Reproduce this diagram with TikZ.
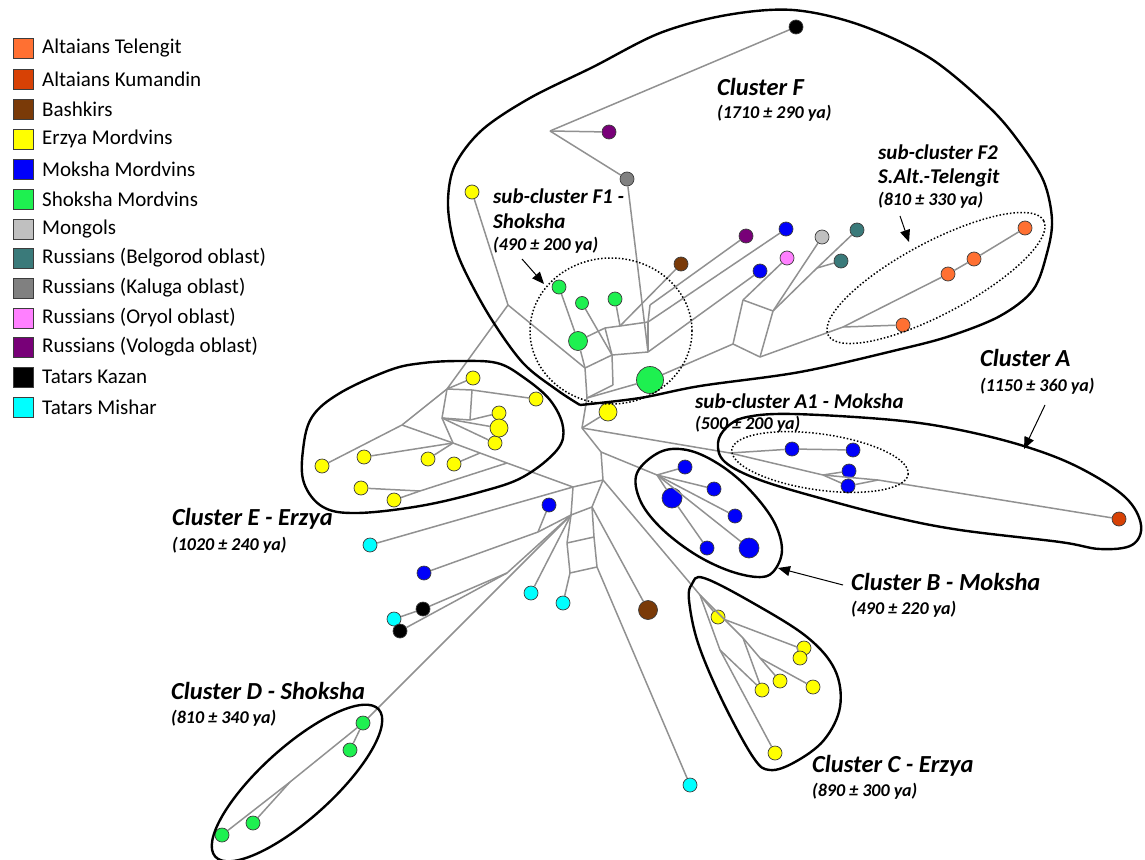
\documentclass[tikz,border=0pt]{standalone}
\usepackage{fontspec}
\setmainfont{Carlito}
\usetikzlibrary{arrows.meta}
\definecolor{cTel}{RGB}{255,112,50}
\definecolor{cKum}{RGB}{215,65,5}
\definecolor{cBash}{RGB}{122,58,8}
\definecolor{cErz}{RGB}{255,255,0}
\definecolor{cMok}{RGB}{0,0,250}
\definecolor{cSho}{RGB}{30,240,80}
\definecolor{cMon}{RGB}{192,192,192}
\definecolor{cBel}{RGB}{58,122,122}
\definecolor{cKal}{RGB}{128,128,128}
\definecolor{cOry}{RGB}{255,128,255}
\definecolor{cVol}{RGB}{120,0,120}
\definecolor{cKaz}{RGB}{0,0,0}
\definecolor{cMis}{RGB}{0,255,255}
\definecolor{edgegray}{RGB}{145,145,145}
\definecolor{ndline}{RGB}{60,60,60}
\begin{document}
\begin{tikzpicture}[x=1pt,y=-1pt,
  lk/.style={draw=edgegray, line width=1.5pt},
  nd/.style={circle, draw=ndline, line width=0.7pt, inner sep=0pt, minimum size=14pt},
  hull/.style={draw=black, line width=2.4pt, line join=round},
  subhull/.style={draw=black, line width=1.5pt, dash pattern=on 1.5pt off 2pt},
  arr/.style={draw=black, line width=1pt, -{Triangle[length=12pt,width=10pt]}},
  lab/.style={font=\fontsize{24.5}{28}\selectfont\bfseries\itshape, anchor=base west, inner sep=0pt},
  slab/.style={font=\fontsize{21}{25}\selectfont\bfseries\itshape, anchor=base west, inner sep=0pt},
  dat/.style={font=\fontsize{18}{21}\selectfont\bfseries\itshape, anchor=base west, inner sep=0pt},
  lg/.style={rectangle, draw=ndline, line width=0.8pt, minimum size=20pt, inner sep=0pt},
  lgt/.style={font=\fontsize{21}{25}\selectfont, anchor=west, inner sep=0pt},
]
\useasboundingbox (0,0) rectangle (1145,859);

% ---------- legend ----------
\foreach \i/\c/\t/\y in {1/cTel/Altaians Telengit/48, 2/cKum/Altaians Kumandin/79, 3/cBash/Bashkirs/109,
  4/cErz/Erzya Mordvins/139, 5/cMok/Moksha Mordvins/169, 6/cSho/Shoksha Mordvins/199, 7/cMon/Mongols/229,
  8/cBel/Russians (Belgorod oblast)/258, 9/cKal/Russians (Kaluga oblast)/288, 10/cOry/Russians (Oryol oblast)/318,
  11/cVol/Russians (Vologda oblast)/347, 12/cKaz/Tatars Kazan/377, 13/cMis/Tatars Mishar/407}{
  \node[lg, fill=\c] (lgbox\i) at (23,\y) {};
  \node[lgt] (lgtxt\i) at (42,\y) {\t};
}

% ---------- junction coordinates ----------
\coordinate (jF0) at (550,131);
\coordinate (L1) at (508,305);
\coordinate (a) at (585,368);
\coordinate (c0) at (587,398);
\coordinate (p1) at (605,328);
\coordinate (p7) at (620,326);
\coordinate (p2) at (648,322);
\coordinate (p6) at (650,305);
\coordinate (p3) at (612,355);
\coordinate (p5) at (648,352);
\coordinate (p4) at (613,385);
\coordinate (q1) at (743,300);
\coordinate (q2) at (773,311);
\coordinate (q3) at (760,357);
\coordinate (q4) at (733,344);
\coordinate (jT) at (817,268);
\coordinate (jT2) at (843,327);
\coordinate (J0) at (582,428);
\coordinate (JB0) at (601,452);
\coordinate (JC0) at (603,480);
\coordinate (JC1) at (573,487);
\coordinate (hubB) at (657,475);
\coordinate (JA) at (730,453);
\coordinate (JA2) at (823,475);
\coordinate (JA3) at (878,480);
\coordinate (jE1) at (447,389);
\coordinate (jE2) at (472,390);
\coordinate (jE3) at (442,418);
\coordinate (jE4) at (470,420);
\coordinate (jE5) at (453,443);
\coordinate (jE6) at (402,425);
\coordinate (jE7) at (480,453);
\coordinate (jE8) at (420,491);
\coordinate (jE9) at (507,463);
\coordinate (K1) at (538,532);
\coordinate (K2) at (571,515);
\coordinate (K3) at (592,507);
\coordinate (M2) at (567,543);
\coordinate (M3) at (594,537);
\coordinate (L2) at (570,573);
\coordinate (L3) at (597,567);
\coordinate (Jk) at (507,573);
\coordinate (hubC) at (700,595);
\coordinate (Jc1) at (797,647);
\coordinate (Jc2) at (743,638);
\coordinate (Jc3) at (760,658);
\coordinate (Jc4) at (720,650);
\coordinate (Jd) at (290,782);

% ---------- nodes ----------
\foreach \n/\x/\y/\c in {
  tk1/796/27/cKaz, vo1/609/132/cVol, ka1/627/179/cKal, ye0/472/192/cErz,
  sh1/559/287/cSho, sh4/615/299/cSho,
  ba1/681/264/cBash, vo2/746/236/cVol, mo1/786/229/cMok, mo2/760/271/cMok, or1/787/258/cOry,
  mn/822/237/cMon, be1/857/230/cBel, be2/841/261/cBel,
  te1/1025/228/cTel, te2/974/259/cTel, te3/948/274/cTel, te4/903/325/cTel,
  ma1/792/449/cMok, ma2/853/450/cMok, ma3/849/471/cMok, ma4/848/486/cMok, ku/1119/519/cKum,
  mb1/685/467/cMok, mb2/714/489/cMok, mb4/735/516/cMok, mb5/707/548/cMok,
  ea/473/378/cErz, eb/536/399/cErz, ec/499/413/cErz, ee/495/443/cErz, ef/364/457/cErz,
  eg/428/459/cErz, eh/322/466/cErz, ei/454/464/cErz, ej/361/488/cErz, ek/394/500/cErz,
  mi1/370/545/cMis, mo3/549/505/cMok, mo4/424/573/cMok, tk2/423/609/cKaz, mi2/394/619/cMis,
  tk3/400/631/cKaz, mi3/531/593/cMis, mi4/563/603/cMis, mi5/690/785/cMis,
  yc1/718/617/cErz, yc2/804/648/cErz, yc3/800/658/cErz, yc4/780/681/cErz, yc5/813/687/cErz,
  yc6/762/690/cErz, yc7/775/753/cErz,
  sd1/363/723/cSho, sd2/350/750/cSho, sd3/253/823/cSho, sd4/222/835/cSho}{
  \node[nd, fill=\c] (\n) at (\x,\y) {};
}
\node[nd, fill=cSho, minimum size=13pt] (sh3) at (582,303) {};
\node[nd, fill=cSho, minimum size=19pt] (sh2) at (578,341) {};
\node[nd, fill=cSho, minimum size=27pt] (sh5) at (650,380) {};
\node[nd, fill=cErz, minimum size=18pt] (ye1) at (608,412) {};
\node[nd, fill=cErz, minimum size=18pt] (ed) at (499,428) {};
\node[nd, fill=cMok, minimum size=20pt] (mb3) at (672,498) {};
\node[nd, fill=cMok, minimum size=20pt] (mb6) at (749,548) {};
\node[nd, fill=cBash, minimum size=19pt] (ba2) at (648,610) {};

% ---------- links ----------
\foreach \a/\b in {
  jF0/tk1, jF0/vo1, jF0/ka1, ka1/p5,
  ye0/L1, L1/a, L1/jE1,
  sh1/sh2, sh2/a, sh2/p1, p1/p7, p7/p2, sh4/p7, sh3/p3, p1/p3, a/p3, p3/p5, p6/p2, p2/p5,
  p3/p4, p4/c0, a/c0, c0/sh5, c0/J0,
  ba1/p7, vo2/p6, mo1/p2, mo2/p5, or1/q1,
  q1/q2, q2/q3, q3/q4, q4/q1, q4/sh5, q3/jT2, mn/q2, jT/q2, be1/jT, be2/jT,
  jT2/te4, jT2/te3, te3/te2, te2/te1,
  ye1/J0, J0/JA, J0/JB0, JB0/hubB, JB0/JC0,
  hubB/mb1, hubB/mb2, hubB/mb3, mb3/mb5, hubB/mb4, hubB/mb6,
  JA/ma1, ma1/ma2, JA/JA2, JA2/ma3, JA2/ma4, JA2/JA3, ma4/JA3, JA3/ku,
  ea/jE1, jE1/jE2, jE2/eb, jE1/jE3, jE2/jE4, jE3/jE4, jE4/ec, jE3/ed, jE3/ee, jE3/jE5,
  jE5/ef, jE5/eg, jE6/eh, jE6/jE1, jE6/jE5, jE5/jE7, jE7/jE9, jE9/JC1, ei/jE7,
  ej/jE8, ek/jE8, jE8/jE9,
  JC0/JC1, JC1/mi1, JC1/K2, K2/K3, JC0/K3, K2/M2, M2/L2, K3/M3, M3/L3, M2/M3, L2/L3,
  mo3/K1, mo4/K1, K1/K2, Jk/K2, Jk/tk2, Jk/tk3, mi2/tk2, mi3/K2, mi4/L2, L3/mi5, K3/ba2, JC0/hubC,
  hubC/yc1, yc1/Jc1, Jc1/yc2, Jc1/yc3, hubC/Jc2, Jc2/yc6, Jc2/Jc3, Jc3/yc4, Jc3/yc5, hubC/Jc4, Jc4/yc7, Jc4/yc6,
  K2/sd1, sd1/sd2, sd1/Jd, Jd/sd4, Jd/sd3}{
  \draw[lk] (\a) -- (\b);
}

% ---------- cluster outlines ----------
% F
\draw[hull] plot[smooth, tension=0.55] coordinates {(580,405) (640,398) (700,386) (800,372) (897,350)
  (950,336) (1000,316) (1033,290) (1047,253) (1052,220) (1044,182) (1022,146) (990,108) (930,58)
  (860,25) (793,10) (727,15) (660,33) (593,67) (530,98) (482,130) (455,165) (448,200) (452,235)
  (463,267) (490,317) (523,363) (557,390) (580,405)};
% E
\draw[hull] plot[smooth cycle, tension=0.6] coordinates {(303,450) (304,483) (323,507) (357,513)
  (420,506) (480,492) (523,477) (557,450) (563,427) (550,400) (523,377) (497,363) (460,361)
  (423,363) (390,370) (340,393) (312,417)};
% B
\draw[hull] plot[smooth cycle, tension=0.6] coordinates {(637,473) (660,452) (687,450) (717,463)
  (747,487) (773,520) (782,550) (773,572) (757,577) (727,570) (693,553) (660,527) (640,500)};
% A
\draw[hull] plot[smooth cycle, tension=0.6] coordinates {(718,443) (727,427) (747,417) (793,414)
  (893,420) (960,430) (1027,447) (1080,468) (1125,497) (1141,525) (1132,545) (1100,549) (1060,542)
  (960,530) (893,517) (827,500) (760,480) (725,462)};
% C
\draw[hull] plot[smooth cycle, tension=0.6] coordinates {(692,584) (704,578) (753,603) (807,637)
  (835,670) (840,707) (824,740) (795,762) (770,770) (753,757) (722,700) (698,643) (689,600)};
% D
\draw[hull, rotate around={42:(297,783)}] (297,783) ellipse [x radius=110pt, y radius=36pt];

% ---------- sub-cluster outlines ----------
\draw[subhull] (611,331) ellipse [x radius=81pt, y radius=73pt];
\draw[subhull, rotate around={28:(936,278)}] (936,278) ellipse [x radius=122pt, y radius=36pt];
\draw[subhull, rotate around={-8:(820,462)}] (820,462) ellipse [x radius=89pt, y radius=28pt];

% ---------- arrows ----------
\coordinate (aF1s) at (522,259); \coordinate (aF1e) at (544,284);
\coordinate (aF2s) at (900,216); \coordinate (aF2e) at (909,242);
\coordinate (aAs) at (1045,405); \coordinate (aAe) at (1024,449);
\coordinate (aBs) at (843,585); \coordinate (aBe) at (778,568);
\draw[arr] (aF1s) -- (aF1e);
\draw[arr] (aF2s) -- (aF2e);
\draw[arr] (aAs) -- (aAe);
\draw[arr] (aBs) -- (aBe);

% ---------- labels ----------
\node[lab] (tF) at (717,95) {Cluster F};
\node[dat] (dF) at (717,118) {(1710 ± 290 ya)};
\node[slab] (tF1a) at (493,203) {sub-cluster F1 -};
\node[slab] (tF1b) at (493,228) {Shoksha};
\node[dat] (dF1) at (493,250) {(490 ± 200 ya)};
\node[slab] (tF2a) at (878,159) {sub-cluster F2};
\node[slab] (tF2b) at (878,183) {S.Alt.-Telengit};
\node[dat] (dF2) at (878,205) {(810 ± 330 ya)};
\node[lab] (tA) at (980,366) {Cluster A};
\node[dat] (dA) at (980,391) {(1150 ± 360 ya)};
\node[slab] (tA1) at (695,408) {sub-cluster A1 - Moksha};
\node[dat] (dA1) at (695,429) {(500 ± 200 ya)};
\node[lab] (tB) at (851,590) {Cluster B - Moksha};
\node[dat] (dB) at (851,614) {(490 ± 220 ya)};
\node[lab] (tC) at (812,772) {Cluster C - Erzya};
\node[dat] (dC) at (812,796) {(890 ± 300 ya)};
\node[lab] (tD) at (171,699) {Cluster D - Shoksha};
\node[dat] (dD) at (171,723) {(810 ± 340 ya)};
\node[lab] (tE) at (172,525) {Cluster E - Erzya};
\node[dat] (dE) at (172,550) {(1020 ± 240 ya)};
\end{tikzpicture}
\end{document}
